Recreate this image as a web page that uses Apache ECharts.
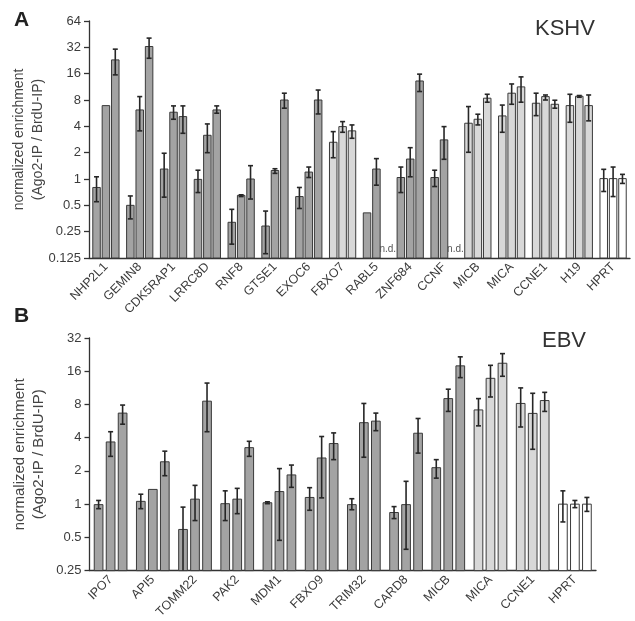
<!DOCTYPE html>
<html><head><meta charset="utf-8">
<script src="https://cdn.jsdelivr.net/npm/echarts@6/dist/echarts.min.js"></script>
<style>html,body{margin:0;padding:0;background:#fff}#c{width:635px;height:621px}</style>
</head><body><div id="c"></div>
<script>
// ---------- Panel A: KSHV ----------
const kshvGenes = ['NHP2L1','GEMIN8','CDK5RAP1','LRRC8D','RNF8','GTSE1','EXOC6','FBXO7','RABL5','ZNF684','CCNF','MICB','MICA','CCNE1','H19','HPRT'];
const kshvShade = ['d','d','d','d','d','d','d','l','d','d','d','l','l','l','l','w'];
const kshv1 = [0.80, 0.50, 1.30, 0.99, 0.32, 0.29, 0.63, 2.63, 0.41, 1.04, 1.04, 4.34, 5.26, 7.35, 6.9, 1.01];
const kshv1Err = [[0.55,1.06],[0.35,0.64],[0.62,1.97],[0.70,1.26],[0.18,0.45],[0.14,0.43],[0.46,0.80],[1.75,3.48],null,[0.70,1.37],[0.82,1.26],[2.02,6.73],[3.42,7.0],[5.3,9.57],[4.45,9.3],[0.72,1.29]];
const kshv2 = [6.9, 6.16, 5.8, 3.16, 0.65, 1.25, 1.20, 3.97, 1.30, 1.69, 2.80, 4.82, 9.57, 8.75, 8.83, 1.01];
const kshv2Err = [null,[3.55,8.75],[4.82,6.85],[2.0,4.26],[0.63,0.66],[1.16,1.31],[1.04,1.37],[3.42,4.53],[0.85,1.71],[1.06,2.28],[1.68,3.97],[4.15,5.5],[7.15,12.2],[8.0,9.13],[8.6,9.0],[0.63,1.37]];
const kshv3 = [23, 32.7, 5.17, 6.16, 1.0, 8.0, 8.0, 3.55, null, 13.2, null, 8.39, 11.3, 7.15, 6.9, 1.01];
const kshv3Err = [[15.5,30.5],[24,40.8],[3.33,6.85],[5.65,6.85],[0.59,1.42],[6.45,9.57],[5.54,10.4],[2.92,4.15],null,[10.0,15.8],null,[7.55,9.3],[7.55,14.7],[6.45,7.95],[4.62,9.13],[0.89,1.13]];
const kshvTicks = [0.125,0.25,0.5,1,2,4,8,16,32,64];

// ---------- Panel B: EBV ----------
const ebvGenes = ['IPO7','API5','TOMM22','PAK2','MDM1','FBXO9','TRIM32','CARD8','MICB','MICA','CCNE1','HPRT'];
const ebvShade = ['d','d','d','d','d','d','d','d','d','l','l','w'];
const ebv1 = [0.99, 1.06, 0.59, 1.01, 1.03, 1.15, 0.99, 0.84, 2.14, 7.14, 8.17, 1.0];
const ebv1Err = [[0.91,1.08],[0.91,1.23],[0.24,0.94],[0.71,1.32],[1.01,1.05],[0.88,1.41],[0.89,1.12],[0.74,0.95],[1.72,2.53],[5.12,9.04],[5.0,11.3],[0.69,1.32]];
const ebv2 = [3.66, 1.36, 1.11, 1.11, 1.30, 2.62, 5.47, 0.99, 9.04, 13.8, 6.64, 1.0];
const ebv2Err = [[2.71,4.53],null,[0.71,1.48],[0.82,1.39],[0.47,2.10],[1.14,4.1],[2.66,8.17],[0.39,1.61],[6.92,11.0],[9.35,18.1],[3.14,10.1],[0.93,1.08]];
const ebv3 = [6.68, 2.42, 8.57, 3.25, 1.84, 3.54, 5.65, 4.39, 17.9, 18.9, 8.68, 1.0];
const ebv3Err = [[5.3,7.9],[1.81,3.02],[4.53,12.5],[2.71,3.71],[1.42,2.26],[2.53,4.42],[4.63,6.68],[2.9,5.97],[14.0,21.6],[14.4,23.1],[6.92,10.3],[0.86,1.15]];
const ebvTicks = [0.25,0.5,1,2,4,8,16,32];

const FONT = '"Liberation Sans", Arial, Helvetica, sans-serif';
const fills = { d: '#a3a3a3', l: '#d8d8d8', w: '#ffffff' };

function buildSeries(shade, reps, errs, gi, barW, gap, yMin) {
  const items = [];
  reps.forEach((arr, r) => arr.forEach((v, c) => items.push({ c, r, v, e: errs[r][c], s: shade[c] })));
  return {
    type: 'custom', xAxisIndex: gi, yAxisIndex: gi, clip: false, silent: true,
    data: items.map(it => [it.c, it.v == null ? yMin : it.v]),
    renderItem(params, api) {
      const it = items[params.dataIndex];
      const pitch = barW * (1 + gap);
      const base = api.coord([it.c, yMin]);
      const cx = base[0] + (it.r - 1) * pitch;
      const bottom = base[1];
      const children = [];
      if (it.v == null) {
        children.push({ type: 'text', x: cx + 2, y: bottom - 4,
          style: { text: 'n.d.', align: 'center', verticalAlign: 'bottom', fill: '#555', font: '10px ' + FONT } });
        return { type: 'group', children };
      }
      const top = api.coord([it.c, it.v])[1];
      children.push({ type: 'rect', shape: { x: cx - barW / 2, y: top, width: barW, height: bottom - top },
        style: { fill: fills[it.s], stroke: '#3a3a3a', lineWidth: 1 } });
      if (it.e) {
        const y1 = api.coord([it.c, Math.max(it.e[0], yMin)])[1];
        const y2 = api.coord([it.c, it.e[1]])[1];
        const st = { stroke: '#262626', lineWidth: 1.6 };
        children.push({ type: 'line', shape: { x1: cx, y1: y1, x2: cx, y2: y2 }, style: st });
        children.push({ type: 'line', shape: { x1: cx - 2.5, y1: y2, x2: cx + 2.5, y2: y2 }, style: st });
        if (it.e[0] > yMin) children.push({ type: 'line', shape: { x1: cx - 2.5, y1: y1, x2: cx + 2.5, y2: y1 }, style: st });
      }
      return { type: 'group', children };
    }
  };
}

function fmt(v) { return String(+(+v).toPrecision(6)); }

const axisLineStyle = { color: '#333', width: 1.3 };
function xAx(genes, gi, fs) {
  return { type: 'category', gridIndex: gi, data: genes, boundaryGap: true,
    axisLine: { lineStyle: axisLineStyle }, axisTick: { alignWithLabel: true, length: 4, lineStyle: axisLineStyle },
    axisLabel: { interval: 0, rotate: 45, margin: 7, color: '#3a3a3a', fontSize: fs, fontFamily: FONT } };
}
function yAx(gi, mn, mx, nameFs) {
  return { type: 'log', logBase: 2, gridIndex: gi, min: mn, max: mx, interval: 1,
    name: 'normalized enrichment\n(Ago2-IP / BrdU-IP)', nameLocation: 'middle', nameGap: 41, nameRotate: 90,
    nameMoveOverlap: false,
    nameTextStyle: { color: '#444', fontSize: nameFs, fontFamily: FONT, lineHeight: 19 },
    axisLine: { show: true, lineStyle: axisLineStyle }, axisTick: { show: true, length: 5, lineStyle: axisLineStyle },
    splitLine: { show: false }, minorTick: { show: false },
    axisLabel: { margin: 8, color: '#3c3c3c', fontSize: 13, fontFamily: FONT, formatter: fmt } };
}

const chart = echarts.init(document.getElementById('c'), null, { renderer: 'canvas' });
chart.setOption({
  animation: false,
  backgroundColor: '#fff',
  grid: [
    { left: 89, right: 5, top: 21, height: 237 },
    { left: 89.5, right: 39, top: 338, height: 240 }
  ],
  xAxis: [xAx(kshvGenes, 0, 12.5), xAx(ebvGenes, 1, 12.5)],
  yAxis: [yAx(0, kshvTicks[0], kshvTicks[kshvTicks.length - 1], 14), yAx(1, ebvTicks[0], ebvTicks[ebvTicks.length - 1], 15)],
  series: [
    buildSeries(kshvShade, [kshv1, kshv2, kshv3], [kshv1Err, kshv2Err, kshv3Err], 0, 7.5, 0.25, kshvTicks[0]),
    buildSeries(ebvShade, [ebv1, ebv2, ebv3], [ebv1Err, ebv2Err, ebv3Err], 1, 8.7, 0.38, ebvTicks[0])
  ],
  graphic: [
    { type: 'text', left: 14, top: 10, style: { text: 'A', font: 'bold 21px ' + FONT, fill: '#222' } },
    { type: 'text', left: 14, top: 306, style: { text: 'B', font: 'bold 21px ' + FONT, fill: '#222' } },
    { type: 'text', left: 535, top: 18, style: { text: 'KSHV', font: '22px ' + FONT, fill: '#333' } },
    { type: 'text', left: 542, top: 330, style: { text: 'EBV', font: '22px ' + FONT, fill: '#333' } }
  ]
});
</script>
</body></html>
